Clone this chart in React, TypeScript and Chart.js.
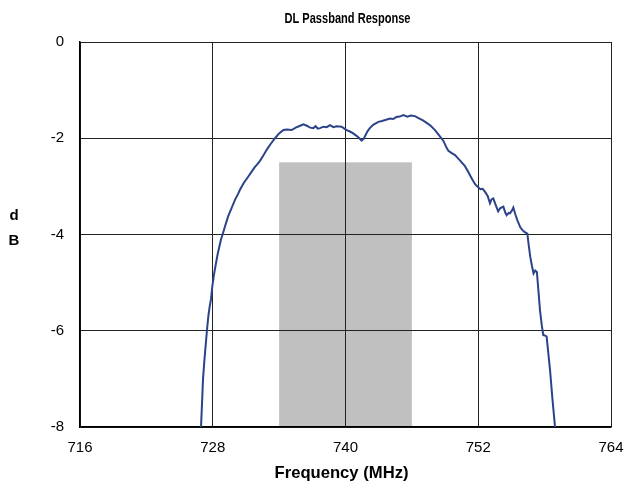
import React, { useEffect, useRef } from "react";
import { Chart, registerables } from "chart.js";

Chart.register(...registerables);

// ---- data ----
const freqMHz = [
  726.94, 727.05, 727.12, 727.25, 727.38, 727.48, 727.6, 727.72, 727.84, 727.95,
  728.1, 728.29, 728.45, 728.6, 728.75, 728.93, 729.15, 729.4, 729.7, 730.01,
  730.3, 730.46, 730.8, 731.2, 731.5, 731.8, 732.0, 732.27, 732.6, 732.93,
  733.2, 733.63, 734.0, 734.39, 734.7, 735.13, 735.5, 735.9, 736.19, 736.5,
  736.8, 737.09, 737.3, 737.5, 737.7, 738.0, 738.3, 738.6, 738.9, 739.2,
  739.65, 739.9, 740.1, 740.4, 740.7, 741.0, 741.25, 741.46, 741.65, 741.76,
  742.0, 742.2, 742.5, 742.97, 743.3, 743.6, 744.02, 744.3, 744.6, 744.9,
  745.23, 745.6, 745.9, 746.28, 746.6, 747.0, 747.34, 747.7, 748.09, 748.5,
  748.84, 749.1, 749.3, 749.6, 749.9, 750.3, 750.8, 751.1, 751.4, 751.7,
  751.9, 752.2, 752.4, 752.6, 752.85, 753.06, 753.2, 753.36, 753.6, 753.8,
  754.0, 754.27, 754.45, 754.57, 754.75, 754.87, 755.05, 755.17, 755.35, 755.53,
  755.8, 756.0, 756.2, 756.44, 756.55, 756.7, 756.85, 757.0, 757.15, 757.3,
  757.45, 757.58, 757.75, 757.88, 758.05, 758.18, 758.35, 758.49, 758.7, 758.94,
];
const responseDb = [
  -8.0, -7.4, -7.0, -6.6, -6.25, -5.98, -5.7, -5.5, -5.35, -5.1,
  -4.85, -4.6, -4.4, -4.25, -4.1, -3.97, -3.8, -3.62, -3.45, -3.28,
  -3.15, -3.07, -2.93, -2.8, -2.7, -2.6, -2.55, -2.47, -2.35, -2.22,
  -2.13, -2.0, -1.9, -1.83, -1.82, -1.83, -1.78, -1.74, -1.71, -1.74,
  -1.78, -1.79, -1.75, -1.8, -1.79, -1.76, -1.77, -1.73, -1.77, -1.75,
  -1.76, -1.8, -1.83, -1.86, -1.9, -1.95, -2.0, -2.05, -2.01, -1.96,
  -1.85, -1.79, -1.72, -1.66, -1.64, -1.62, -1.59, -1.6, -1.56, -1.55,
  -1.52, -1.55, -1.53, -1.54, -1.58, -1.63, -1.68, -1.74, -1.83, -1.95,
  -2.05, -2.18, -2.26, -2.31, -2.35, -2.45, -2.58, -2.7, -2.83, -2.95,
  -3.0, -3.06, -3.05, -3.11, -3.2, -3.35, -3.27, -3.25, -3.4, -3.52,
  -3.45, -3.42, -3.55, -3.6, -3.55, -3.56, -3.5, -3.44, -3.58, -3.7,
  -3.85, -3.91, -3.95, -3.98, -4.2, -4.46, -4.65, -4.81, -4.75, -4.78,
  -5.2, -5.57, -5.9, -6.09, -6.1, -6.12, -6.5, -6.82, -7.4, -8.0,
];
const xTicks = [716, 728, 740, 752, 764];
const yTicks = [0, -2, -4, -6, -8];
const passbandStart = 734;
const passbandEnd = 746;
const passbandTop = -2.5;

const chartTitle = "DL Passband Response";
const xTitle = "Frequency (MHz)";
const yTitleLetters = ["d", "B"];

const FONT = "'Liberation Sans', Arial, sans-serif";

function fitText(ctx: any, text: string, cx: number, cy: number, font: string, targetW: number) {
  ctx.font = font;
  const w = ctx.measureText(text).width;
  const sx = w > 0 ? targetW / w : 1;
  ctx.save();
  ctx.translate(cx, cy);
  ctx.scale(sx, 1);
  ctx.fillText(text, 0, 0);
  ctx.restore();
}

export default function App() {
  const ref = useRef<HTMLCanvasElement>(null);

  useEffect(() => {
    if (!ref.current) return;

    const decorPlugin = {
      id: "decor",
      beforeDraw(chart: any) {
        const { ctx, scales } = chart;
        const x = scales.x;
        const y = scales.y;
        const x0 = x.getPixelForValue(passbandStart);
        const x1 = x.getPixelForValue(passbandEnd);
        const y0 = y.getPixelForValue(passbandTop);
        const y1 = y.getPixelForValue(y.min);
        ctx.save();
        ctx.fillStyle = "#c0c0c0";
        ctx.fillRect(x0, y0, x1 - x0, y1 - y0);
        ctx.restore();
      },
      afterDraw(chart: any) {
        const { ctx, chartArea } = chart;
        const cx = (chartArea.left + chartArea.right) / 2;
        ctx.save();
        ctx.fillStyle = "#000";
        ctx.textAlign = "center";
        ctx.textBaseline = "middle";
        fitText(ctx, chartTitle, cx + 2, 11, `bold 15px ${FONT}`, 126);
        fitText(ctx, xTitle, cx - 4, 465, `bold 17px ${FONT}`, 134);
        ctx.font = `bold 15px ${FONT}`;
        yTitleLetters.forEach((t, i) => ctx.fillText(t, 6, 208 + i * 25));
        ctx.restore();
      },
    };

    const chart = new Chart(ref.current, {
      type: "scatter",
      data: {
        datasets: [
          {
            data: freqMHz.map((f, i) => ({ x: f, y: responseDb[i] })),
            showLine: true,
            borderColor: "#2c4389",
            borderWidth: 2,
            pointRadius: 0,
            tension: 0,
          },
        ],
      },
      options: {
        animation: false,
        responsive: false,
        maintainAspectRatio: false,
        layout: { padding: { left: 0, right: 13, top: 34, bottom: 0 } },
        plugins: { legend: { display: false }, tooltip: { enabled: false }, title: { display: false } },
        scales: {
          x: {
            type: "linear",
            min: xTicks[0],
            max: xTicks[xTicks.length - 1],
            afterBuildTicks: (s: any) => {
              s.ticks = xTicks.map((v) => ({ value: v }));
            },
            afterFit: (s: any) => {
              s.height = 58;
              s.paddingLeft = 0;
              s.paddingRight = 0;
            },
            grid: { color: "#222", lineWidth: 1, drawTicks: false },
            border: { color: "#000", width: 1.5 },
            ticks: { color: "#000", padding: 12, font: { family: FONT, size: 15 }, maxRotation: 0, autoSkip: false },
          },
          y: {
            type: "linear",
            min: yTicks[yTicks.length - 1],
            max: yTicks[0],
            afterBuildTicks: (s: any) => {
              s.ticks = yTicks.map((v) => ({ value: v }));
            },
            afterFit: (s: any) => {
              s.width = 72;
              s.paddingTop = 0;
              s.paddingBottom = 0;
            },
            grid: { color: "#222", lineWidth: 1, drawTicks: false },
            border: { color: "#000", width: 1.5 },
            ticks: { color: "#000", padding: 16, font: { family: FONT, size: 15 }, autoSkip: false },
          },
        },
      },
      plugins: [decorPlugin],
    });
    return () => chart.destroy();
  }, []);

  return (
    <div style={{ width: 616, height: 477 }}>
      <canvas ref={ref} width={616} height={477} style={{ width: 616, height: 477, display: "block" }} />
    </div>
  );
}
